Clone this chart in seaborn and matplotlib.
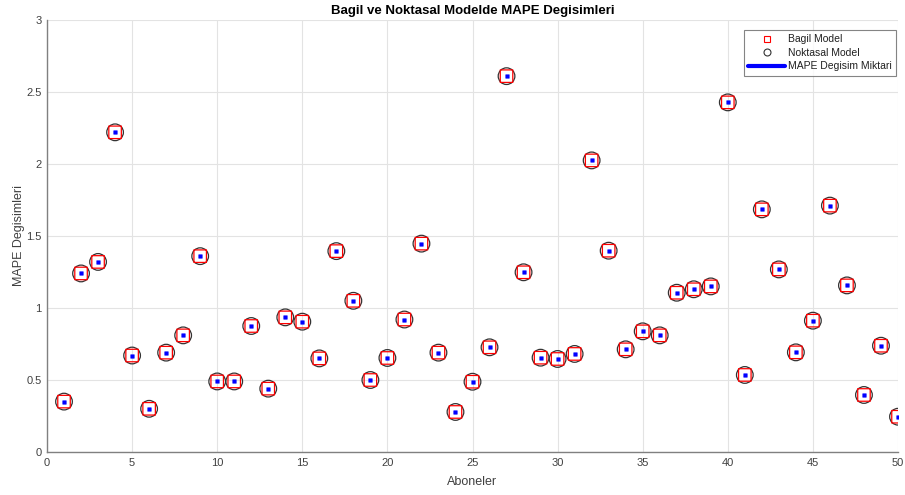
import numpy as np
import pandas as pd
import matplotlib
matplotlib.use("Agg")
import matplotlib.pyplot as plt
from matplotlib.lines import Line2D
import seaborn as sns

abone = list(range(1, 51))
bagil = [0.35, 1.24, 1.32, 2.22, 0.67, 0.30, 0.69, 0.81, 1.36, 0.49,
         0.49, 0.875, 0.44, 0.935, 0.905, 0.65, 1.395, 1.05, 0.50, 0.653,
         0.92, 1.447, 0.69, 0.278, 0.488, 0.727, 2.61, 1.248, 0.655, 0.646,
         0.681, 2.025, 1.398, 0.713, 0.838, 0.81, 1.106, 1.13, 1.15, 2.428,
         0.535, 1.685, 1.268, 0.692, 0.912, 1.711, 1.157, 0.396, 0.738, 0.245]
noktasal = list(bagil)
degisim = list(bagil)

xticks = [0, 5, 10, 15, 20, 25, 30, 35, 40, 45, 50]
yticks = [0, 0.5, 1, 1.5, 2, 2.5, 3]
ytick_labels = ["0", "0.5", "1", "1.5", "2", "2.5", "3"]

title = "Bagil ve Noktasal Modelde MAPE Degisimleri"
xlabel = "Aboneler"
ylabel = "MAPE Degisimleri"
labels = ["Bagil Model", "Noktasal Model", "MAPE Degisim Miktari"]

df = pd.DataFrame({"abone": abone, "bagil": bagil, "noktasal": noktasal, "degisim": degisim})

sns.set_style("white")
plt.rcParams["font.family"] = ["Liberation Sans", "DejaVu Sans"]

fig = plt.figure(figsize=(9.05, 4.95), dpi=100)
ax = fig.add_axes([47 / 905, 43 / 495, 851 / 905, 432 / 495])

sns.scatterplot(data=df, x="abone", y="noktasal", ax=ax, marker="o",
                s=12.0 ** 2, facecolors="none", edgecolors="#333333",
                linewidth=0.9, zorder=3, snap=False)
sns.scatterplot(data=df, x="abone", y="bagil", ax=ax, marker="s",
                s=9.0 ** 2, facecolors="none", edgecolors="#ff0000",
                linewidth=0.9, zorder=4, snap=False)
sns.scatterplot(data=df, x="abone", y="degisim", ax=ax, marker="s",
                s=2.6 ** 2, facecolors="#0000ff", edgecolors="#0000ff",
                linewidth=0.3, zorder=5, snap=False)

ax.set_xlim(0, 50)
ax.set_ylim(0, 3)
ax.set_xticks(xticks)
ax.set_xticklabels([str(t) for t in xticks])
ax.set_yticks(yticks)
ax.set_yticklabels(ytick_labels)

ax.grid(True, color="#e3e3e3", linewidth=0.8)
ax.set_axisbelow(True)
for s in ["top", "right"]:
    ax.spines[s].set_visible(False)
for s in ["left", "bottom"]:
    ax.spines[s].set_color("#808080")
    ax.spines[s].set_linewidth(1.0)
ax.tick_params(axis="both", direction="in", length=4, width=0.8, color="#808080",
               labelcolor="#404040", labelsize=8, pad=4)

ax.set_xlabel(xlabel, fontsize=9, color="#404040", labelpad=6)
ax.set_ylabel(ylabel, fontsize=9, color="#404040", labelpad=1)
ax.set_title(title, fontsize=9.5, fontweight="bold", color="#000000",
             family=["Liberation Sans Narrow", "Liberation Sans", "DejaVu Sans"], pad=4)

handles = [
    Line2D([], [], linestyle="none", marker="s", markersize=4.5, markerfacecolor="none",
           markeredgecolor="#ff0000", markeredgewidth=0.8),
    Line2D([], [], linestyle="none", marker="o", markersize=5, markerfacecolor="none",
           markeredgecolor="#333333", markeredgewidth=0.8),
    Line2D([], [], color="#0000ff", linewidth=3),
]
leg = ax.legend(handles, labels, loc="upper right", bbox_to_anchor=(0.998, 0.978),
                fontsize=7.5, frameon=True, fancybox=False, handlelength=3.5,
                borderpad=0.45, labelspacing=0.35, handletextpad=0.3, borderaxespad=0)
leg.get_frame().set_edgecolor("#666666")
leg.get_frame().set_linewidth(0.8)
for t in leg.get_texts():
    t.set_color("#202020")

fig.savefig("out.png", dpi=100)
